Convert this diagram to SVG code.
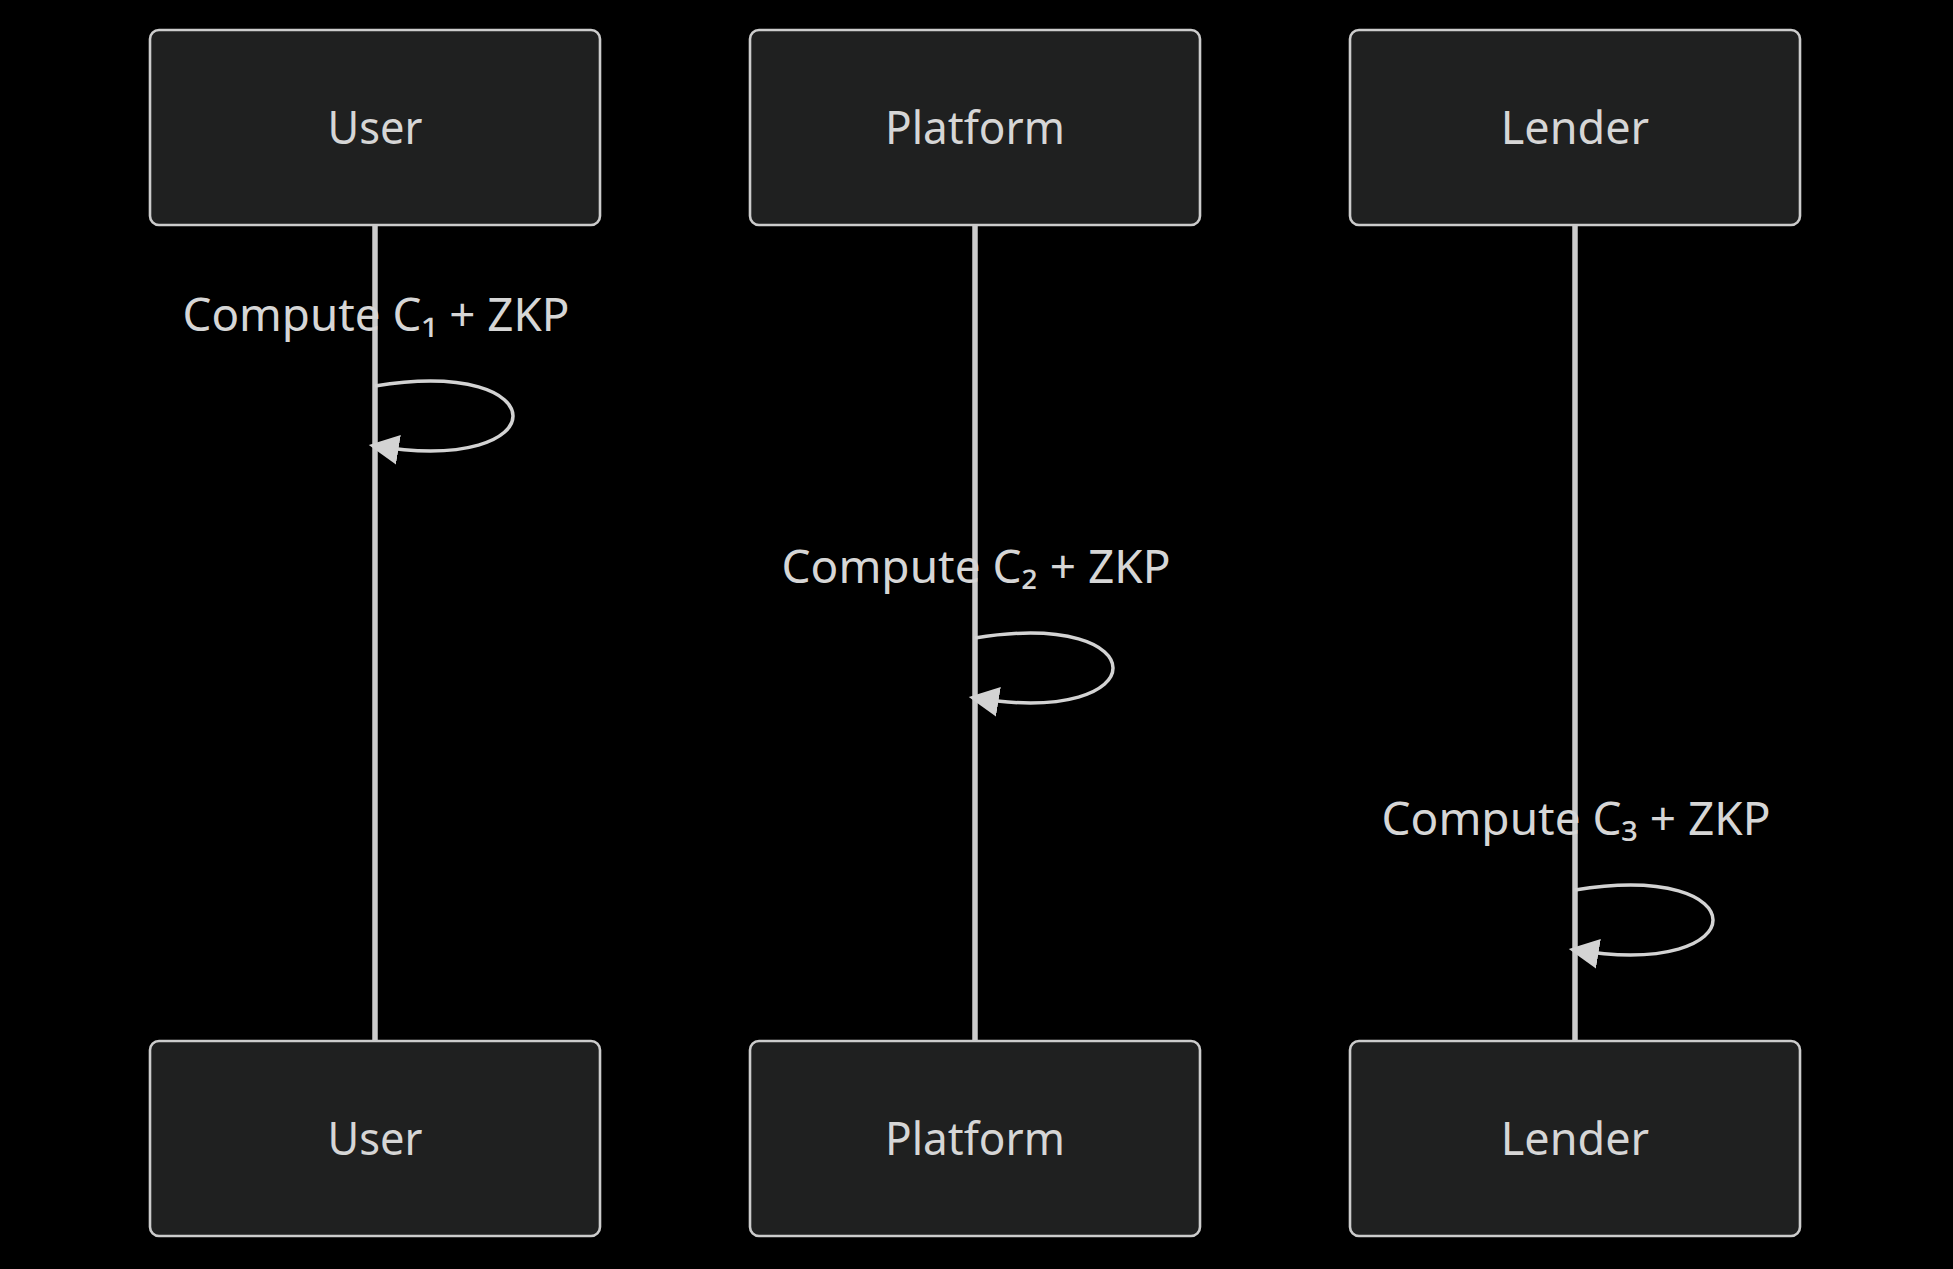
<svg xmlns="http://www.w3.org/2000/svg" width="1953" height="1269" viewBox="0 0 1953 1269">
<style>
.actor{fill:#1f2020;stroke:#cccccc;stroke-width:2.6}
.label{font-family:"Noto Sans","DejaVu Sans",sans-serif;font-size:45px;fill:#d6d6d6;text-anchor:middle}
.lifeline{stroke:#cccccc;stroke-width:5.5;fill:none}
.msg{stroke:#d3d3d3;stroke-width:3.5;fill:none;marker-end:url(#arrowhead)}
</style>
<defs>
<marker id="arrowhead" markerUnits="userSpaceOnUse" viewBox="0 0 12 12" markerWidth="36" markerHeight="36" refX="7.9" refY="5" orient="auto">
<path d="M 0 0 L 10 5 L 0 10 z" fill="#d3d3d3"/>
</marker>
</defs>
<rect width="1953" height="1269" fill="#000000"/>
<g id="lifelines">
<line class="lifeline" x1="375" y1="225" x2="375" y2="1041"/>
<line class="lifeline" x1="975" y1="225" x2="975" y2="1041"/>
<line class="lifeline" x1="1575" y1="225" x2="1575" y2="1041"/>
</g>
<g id="actor-user-top"><rect class="actor" x="150" y="30" width="450" height="195" rx="9"/><text class="label" x="375" y="144" textLength="95" lengthAdjust="spacingAndGlyphs">User</text></g>
<g id="actor-platform-top"><rect class="actor" x="750" y="30" width="450" height="195" rx="9"/><text class="label" x="975" y="144" textLength="180" lengthAdjust="spacingAndGlyphs">Platform</text></g>
<g id="actor-lender-top"><rect class="actor" x="1350" y="30" width="450" height="195" rx="9"/><text class="label" x="1575" y="144">Lender</text></g>
<g id="actor-user-bottom"><rect class="actor" x="150" y="1041" width="450" height="195" rx="9"/><text class="label" x="375" y="1155" textLength="95" lengthAdjust="spacingAndGlyphs">User</text></g>
<g id="actor-platform-bottom"><rect class="actor" x="750" y="1041" width="450" height="195" rx="9"/><text class="label" x="975" y="1155" textLength="180" lengthAdjust="spacingAndGlyphs">Platform</text></g>
<g id="actor-lender-bottom"><rect class="actor" x="1350" y="1041" width="450" height="195" rx="9"/><text class="label" x="1575" y="1155">Lender</text></g>
<g id="messages">
<text class="label" x="376" y="331" textLength="387" lengthAdjust="spacingAndGlyphs">Compute C₁ + ZKP</text>
<path class="msg" d="M 375,386 C 559,356 559,476 375,446"/>
<text class="label" x="976" y="583" textLength="389" lengthAdjust="spacingAndGlyphs">Compute C₂ + ZKP</text>
<path class="msg" d="M 975,638 C 1159,608 1159,728 975,698"/>
<text class="label" x="1576" y="835" textLength="389" lengthAdjust="spacingAndGlyphs">Compute C₃ + ZKP</text>
<path class="msg" d="M 1575,890 C 1759,860 1759,980 1575,950"/>
</g>
</svg>
